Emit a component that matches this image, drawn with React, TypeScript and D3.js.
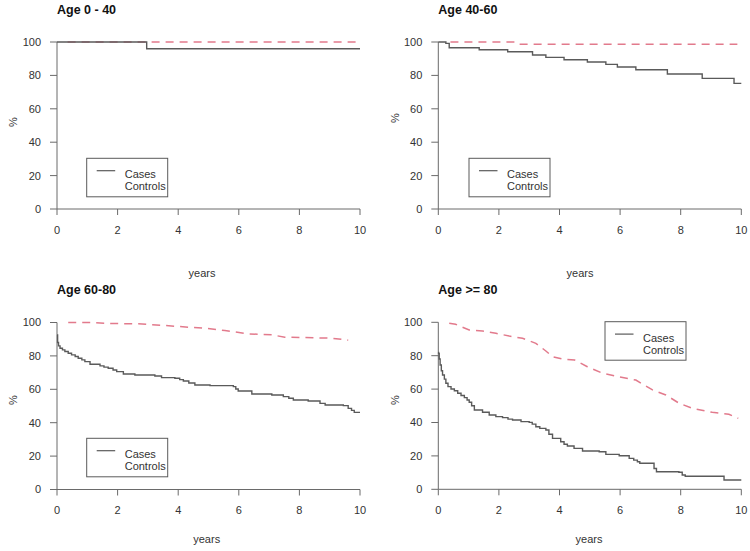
import React from "react";
import * as d3 from "d3";

type Pt = [number, number];

// ---- data (years, % surviving) ----
const xTicks = [0, 2, 4, 6, 8, 10];
const yTicks = [0, 20, 40, 60, 80, 100];
const titles = ["Age 0 - 40", "Age 40-60", "Age 60-80", "Age >= 80"];
const legendLabels = ["Cases", "Controls"];
const xLabel = "years";
const yLabel = "%";

const casesAge0_40: Pt[] = [[0, 100], [2.96, 96], [10, 96]];
const controlsAge0_40: Pt[] = [[0.35, 100], [9.93, 100]];

const casesAge40_60: Pt[] = [
  [0, 100], [0.25, 99.2], [0.36, 96.6], [1.35, 95.4], [2.29, 94.2], [3.11, 92.2],
  [3.55, 90.8], [4.15, 89.4], [4.92, 88.0], [5.53, 86.6], [5.91, 85.0], [6.52, 83.4],
  [7.56, 80.8], [8.71, 78.2], [9.76, 75.2], [10, 75.2],
];
const controlsAge40_60: Pt[] = [[0.4, 100], [2.52, 100], [2.62, 98.6], [9.87, 98.6]];

const casesAge60_80: Pt[] = [
  [0, 92.6], [0.02, 88], [0.05, 86], [0.1, 84.6], [0.18, 83.6], [0.26, 82.6], [0.37, 81.6],
  [0.48, 80.6], [0.6, 79.6], [0.7, 78.6], [0.82, 77.6], [0.92, 76.6], [1.09, 75], [1.42, 74],
  [1.55, 73.3], [1.69, 72.6], [1.85, 71.6], [1.97, 70.6], [2.19, 69.2], [2.57, 68.6],
  [3.23, 68], [3.45, 67], [3.89, 66.6], [4.05, 65.8], [4.17, 65], [4.35, 63.8], [4.55, 62.6],
  [5.05, 62.2], [5.82, 61.6], [5.9, 60.2], [5.98, 59], [6.43, 57.2], [7.09, 56.6],
  [7.47, 55.6], [7.65, 54.6], [7.8, 53.6], [8.29, 53], [8.68, 51.6], [8.85, 50.6],
  [9.45, 50.2], [9.61, 48.6], [9.72, 47.4], [9.81, 46.2], [10, 46.2],
];
const controlsAge60_80: Pt[] = [
  [0.37, 100], [1.1, 100], [1.58, 99.5], [2.68, 99.2], [3.56, 98.2], [4.33, 97.2],
  [4.88, 96.6], [5.54, 95.2], [6.31, 93.2], [7.09, 92.6], [7.52, 91.2], [8.2, 91],
  [9.07, 90.6], [9.61, 89.4],
];

const casesAge80: Pt[] = [
  [0, 82], [0.01, 81.4], [0.03, 78], [0.06, 74.4], [0.1, 71], [0.14, 68.4], [0.2, 66],
  [0.25, 63.5], [0.32, 61.5], [0.42, 60.1], [0.53, 59], [0.64, 57.5], [0.75, 56.2],
  [0.86, 54.9], [0.95, 53.5], [1.02, 52.1], [1.1, 50], [1.19, 47.5], [1.46, 46.1],
  [1.68, 44.5], [1.9, 43.5], [2.12, 42.9], [2.3, 42], [2.45, 41.5], [2.73, 40.5],
  [3.0, 40.1], [3.1, 39], [3.22, 37.5], [3.35, 36.5], [3.55, 35.5], [3.65, 33],
  [3.77, 30.5], [4.04, 28.5], [4.15, 27], [4.26, 25.9], [4.48, 24.5], [4.76, 22.9],
  [5.31, 22.5], [5.53, 20.9], [5.97, 20.1], [6.3, 18.5], [6.45, 17.5], [6.57, 16.5],
  [6.65, 15.6], [7.12, 12.5], [7.2, 10.5], [7.94, 10.2], [8.05, 8.6], [8.15, 7.8],
  [9.43, 5.6], [10, 5.6],
];
const controlsAge80: Pt[] = [
  [0.36, 99.4], [0.57, 98.8], [1.02, 95.4], [1.46, 94.8], [1.9, 93.4], [2.34, 91.8],
  [2.78, 90.4], [3.22, 87.4], [3.55, 82.8], [3.77, 79.4], [4.1, 78], [4.5, 77.4],
  [4.92, 73.4], [5.42, 69.5], [5.97, 67.4], [6.52, 65.4], [7.07, 59.5], [7.51, 56.5],
  [7.95, 51.5], [8.39, 48.5], [9.04, 46.1], [9.59, 44.9], [9.9, 42.5],
];

const casesSeries = [casesAge0_40, casesAge40_60, casesAge60_80, casesAge80];
const controlsSeries = [controlsAge0_40, controlsAge40_60, controlsAge60_80, controlsAge80];

// ---- layout ----
const W = 750;
const H = 551;
const PW = 303;
const PH = 167;
const layout = [
  { x0: 57, y0: 42, titleY: 13.5, legend: [86.7, 158.3], xlab: [202, 277], pct: [13, 122] },
  { x0: 438.3, y0: 42, titleY: 13.5, legend: [469, 158.3], xlab: [580, 277], pct: [395, 118] },
  { x0: 57, y0: 322.5, titleY: 293.5, legend: [86.7, 438.3], xlab: [206.7, 543], pct: [13, 400] },
  { x0: 438.3, y0: 322.3, titleY: 293.5, legend: [605, 321.7], xlab: [589, 543], pct: [395, 400] },
];

const FONT = "'Liberation Sans', Arial, Helvetica, sans-serif";
const AXIS = "#6a6a6a";
const CASE = "#5a5a5a";
const CTRL = "#e27a8c";
const TEXT = "#333";

function Panel({ i }: { i: number }) {
  const L = layout[i];
  const x = d3.scaleLinear().domain([0, 10]).range([L.x0, L.x0 + PW]);
  const y = d3.scaleLinear().domain([0, 100]).range([L.y0 + PH, L.y0]);
  const step = d3.line<Pt>().x((d) => x(d[0])).y((d) => y(d[1])).curve(d3.curveStepAfter);
  const lin = d3.line<Pt>().x((d) => x(d[0])).y((d) => y(d[1])).curve(d3.curveLinear);
  const [lx, ly] = L.legend;
  return (
    <g>
      <text x={L.x0} y={L.titleY} fontFamily={FONT} fontWeight="bold" fontSize={12.5} fill="#111">
        {titles[i]}
      </text>
      {/* y axis */}
      <line x1={x(0)} x2={x(0)} y1={y(0)} y2={y(100)} stroke={AXIS} strokeWidth={1} />
      {yTicks.map((t) => (
        <g key={"y" + t}>
          <line x1={x(0) - 7} x2={x(0)} y1={y(t)} y2={y(t)} stroke={AXIS} strokeWidth={1} />
          <text x={x(0) - 16} y={y(t)} dy="0.36em" textAnchor="end" fontFamily={FONT} fontSize={11} fill={TEXT}>
            {t}
          </text>
        </g>
      ))}
      {/* x axis */}
      <line x1={x(0)} x2={x(10)} y1={y(0)} y2={y(0)} stroke={AXIS} strokeWidth={1} />
      {xTicks.map((t) => (
        <g key={"x" + t}>
          <line x1={x(t)} x2={x(t)} y1={y(0)} y2={y(0) + 6} stroke={AXIS} strokeWidth={1} />
          <text x={x(t)} y={y(0) + 24.5} textAnchor="middle" fontFamily={FONT} fontSize={11} fill={TEXT}>
            {t}
          </text>
        </g>
      ))}
      <text x={L.xlab[0]} y={L.xlab[1]} textAnchor="middle" fontFamily={FONT} fontSize={11} fill={TEXT}>
        {xLabel}
      </text>
      <text
        transform={`translate(${L.pct[0] + 4},${L.pct[1]}) rotate(-90)`}
        textAnchor="middle"
        fontFamily={FONT}
        fontSize={11}
        fill={TEXT}
      >
        {yLabel}
      </text>
      {/* curves */}
      <path d={lin(controlsSeries[i]) || ""} fill="none" stroke={CTRL} strokeWidth={1.5} strokeDasharray="8,6" />
      <path d={step(casesSeries[i]) || ""} fill="none" stroke={CASE} strokeWidth={1.4} />
      {/* legend */}
      <rect x={lx} y={ly} width={81} height={38.5} fill="white" stroke={CASE} strokeWidth={1} />
      <line x1={lx + 10} x2={lx + 28.5} y1={ly + 12.4} y2={ly + 12.4} stroke={CASE} strokeWidth={1.2} />
      <text x={lx + 38} y={ly + 20} fontFamily={FONT} fontSize={11} fill={TEXT}>
        {legendLabels[0]}
      </text>
      <text x={lx + 38} y={ly + 32} fontFamily={FONT} fontSize={11} fill={TEXT}>
        {legendLabels[1]}
      </text>
    </g>
  );
}

export default function App() {
  return (
    <svg
      width={W}
      height={H}
      viewBox={`0 0 ${W} ${H}`}
      style={{ position: "absolute", left: 0, top: 0, background: "white" }}
    >
      <rect x={0} y={0} width={W} height={H} fill="white" />
      {[0, 1, 2, 3].map((i) => (
        <Panel key={i} i={i} />
      ))}
    </svg>
  );
}
